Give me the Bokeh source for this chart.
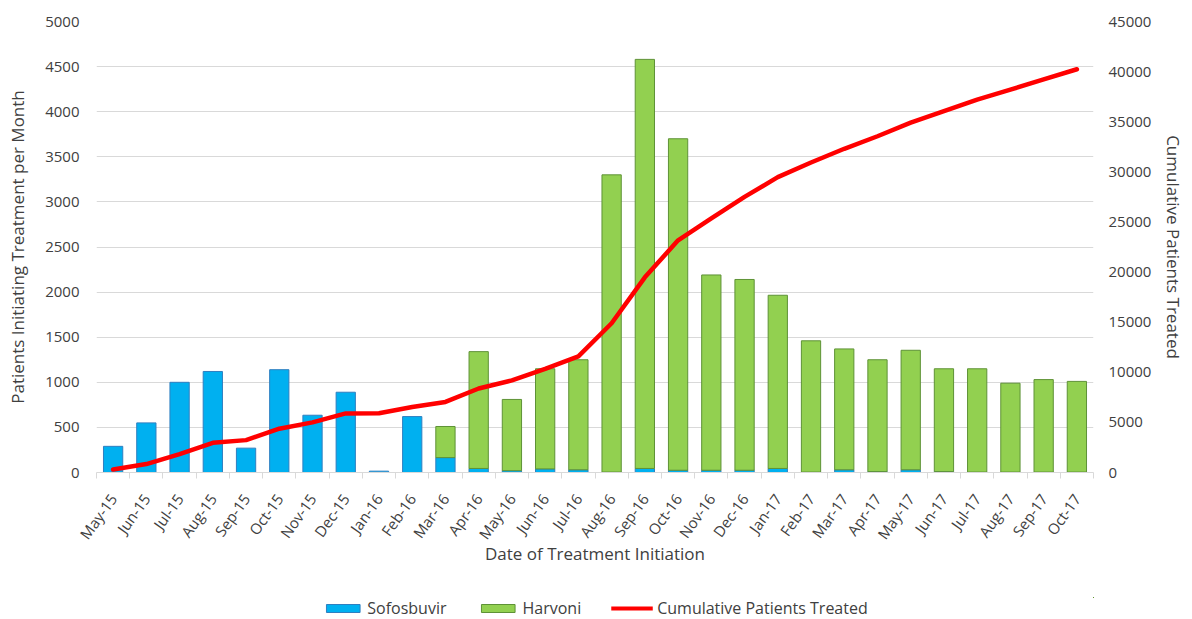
import numpy as np
from bokeh.plotting import figure
from bokeh.layouts import column
from bokeh.models import (ColumnDataSource, Range1d, LinearAxis, FixedTicker,
                          Legend, LegendItem)
from bokeh.embed import file_html
from bokeh.resources import INLINE

months = ["May-15", "Jun-15", "Jul-15", "Aug-15", "Sep-15", "Oct-15", "Nov-15", "Dec-15",
          "Jan-16", "Feb-16", "Mar-16", "Apr-16", "May-16", "Jun-16", "Jul-16", "Aug-16",
          "Sep-16", "Oct-16", "Nov-16", "Dec-16", "Jan-17", "Feb-17", "Mar-17", "Apr-17",
          "May-17", "Jun-17", "Jul-17", "Aug-17", "Sep-17", "Oct-17"]
sofosbuvir = [290, 550, 1000, 1120, 270, 1140, 635, 890, 15, 620, 165, 45, 20, 40, 30, 5,
              45, 25, 25, 25, 45, 5, 30, 10, 30, 10, 5, 5, 5, 5]
# None = no Harvoni bar that month
harvoni = [None, None, None, None, None, None, None, None, None, None, 345, 1295, 790, 1110,
           1220, 3295, 4535, 3675, 2165, 2115, 1920, 1455, 1340, 1240, 1325, 1140, 1145,
           985, 1025, 1005]
cumulative = [290, 840, 1840, 2960, 3230, 4370, 5005, 5895, 5910, 6530, 7040, 8380, 9190,
              10340, 11590, 14890, 19470, 23170, 25360, 27500, 29470, 30930, 32300, 33550,
              34905, 36055, 37205, 38195, 39225, 40235]
left_ticks = [0, 500, 1000, 1500, 2000, 2500, 3000, 3500, 4000, 4500, 5000]
right_ticks = [0, 5000, 10000, 15000, 20000, 25000, 30000, 35000, 40000, 45000]
series_names = ["Sofosbuvir", "Harvoni", "Cumulative Patients Treated"]

n = len(months)
xc = [i + 0.5 for i in range(n)]
harv_arr = np.array([np.nan if v is None else v for v in harvoni], dtype=float)
src = ColumnDataSource(dict(x=xc, month=months,
                            Sofosbuvir=np.array(sofosbuvir, dtype=float),
                            Harvoni=harv_arr, cum=np.array(cumulative, dtype=float)))

FONT = "Open Sans"
TXT = "#404040"
TICK_FS = "15px"
TITLE_FS = "17px"
BAR_FILL = ["#00B0F0", "#92D050"]
BAR_LINE = ["#2F7FC0", "#5E9236"]
LINE_COLOR = "#FF0000"

W = 1192
p = figure(width=W, height=597, output_backend="svg", toolbar_location=None,
           x_range=Range1d(0, n), y_range=Range1d(left_ticks[0], left_ticks[-1]),
           min_border_left=96, min_border_right=99, min_border_top=21,
           min_border_bottom=125, outline_line_color=None)
p.extra_y_ranges = {"cum": Range1d(right_ticks[0], right_ticks[-1])}

# grid
p.xgrid.grid_line_color = None
p.ygrid.grid_line_color = "#D9D9D9"
p.ygrid.grid_line_width = 1

# bars
rs = p.vbar_stack(["Sofosbuvir", "Harvoni"], x="x", width=0.58, source=src,
                  fill_color=BAR_FILL, line_color=BAR_LINE, line_width=1)

# cumulative line
ln = p.line("x", "cum", source=src, y_range_name="cum", line_color=LINE_COLOR,
            line_width=4.5, line_join="round", line_cap="round")

# x axis
xa = p.xaxis[0]
xa.ticker = FixedTicker(ticks=xc, minor_ticks=list(range(n + 1)))
xa.major_label_overrides = {x: m for x, m in zip(xc, months)}
xa.major_label_orientation = 0.95
xa.major_tick_line_color = None
xa.major_tick_out = 0
xa.minor_tick_line_color = "#D9D9D9"
xa.minor_tick_out = 6
xa.minor_tick_in = 0
xa.axis_line_color = "#D9D9D9"
xa.major_label_standoff = 17
xa.major_label_text_font = FONT
xa.major_label_text_font_size = TICK_FS
xa.major_label_text_color = TXT
xa.axis_label = "Date of Treatment Initiation"
xa.axis_label_text_font = FONT
xa.axis_label_text_font_size = TITLE_FS
xa.axis_label_text_font_style = "normal"
xa.axis_label_text_color = TXT
xa.axis_label_standoff = -10

# left axis
ya = p.yaxis[0]
ya.ticker = FixedTicker(ticks=left_ticks)
ya.axis_line_color = None
ya.major_tick_line_color = None
ya.major_tick_out = 0
ya.minor_tick_line_color = None
ya.major_label_standoff = 17
ya.major_label_text_font = FONT
ya.major_label_text_font_size = TICK_FS
ya.major_label_text_color = TXT
ya.axis_label = "Patients Initiating Treatment per Month"
ya.axis_label_text_font = FONT
ya.axis_label_text_font_size = TITLE_FS
ya.axis_label_text_font_style = "normal"
ya.axis_label_text_color = TXT
ya.axis_label_standoff = 13

# right axis
ra = LinearAxis(y_range_name="cum", ticker=FixedTicker(ticks=right_ticks))
ra.axis_line_color = None
ra.major_tick_line_color = None
ra.major_tick_out = 0
ra.minor_tick_line_color = None
ra.major_label_standoff = 15
ra.major_label_text_font = FONT
ra.major_label_text_font_size = TICK_FS
ra.major_label_text_color = TXT
ra.axis_label = "Cumulative Patients Treated"
ra.axis_label_text_font = FONT
ra.axis_label_text_font_size = TITLE_FS
ra.axis_label_text_font_style = "normal"
ra.axis_label_text_color = TXT
ra.axis_label_standoff = 8
p.add_layout(ra, "right")

# legend strip: a small figure whose swatch renderers use the same data but lie
# outside its (hidden) view range, so only the legend shows
lg = figure(width=W, height=22, output_backend="svg", toolbar_location=None,
            x_axis_type=None, y_axis_type=None,
            x_range=Range1d(-200, -100), y_range=Range1d(-200, -100),
            min_border=0, outline_line_color=None)
lg.xgrid.grid_line_color = None
lg.ygrid.grid_line_color = None
s1 = lg.vbar(x="x", top="Sofosbuvir", width=0.58, source=src, fill_color=BAR_FILL[0],
             line_color=BAR_LINE[0])
s2 = lg.vbar(x="x", top="Harvoni", width=0.58, source=src, fill_color=BAR_FILL[1],
             line_color=BAR_LINE[1])
s3 = lg.line(x="x", y="cum", source=src, line_color=LINE_COLOR, line_width=4)
legend = Legend(items=[LegendItem(label=series_names[0], renderers=[s1]),
                       LegendItem(label=series_names[1], renderers=[s2]),
                       LegendItem(label=series_names[2], renderers=[s3])],
                orientation="horizontal", location="center",
                glyph_width=42, glyph_height=10, label_standoff=4, spacing=30,
                label_text_font=FONT, label_text_font_size="16px",
                label_text_color=TXT, border_line_color=None,
                background_fill_alpha=0, padding=0, margin=0, label_height=14)
lg.add_layout(legend, "center")

layout = column(p, lg, spacing=0)
open("out.html", "w").write(file_html(layout, INLINE))
